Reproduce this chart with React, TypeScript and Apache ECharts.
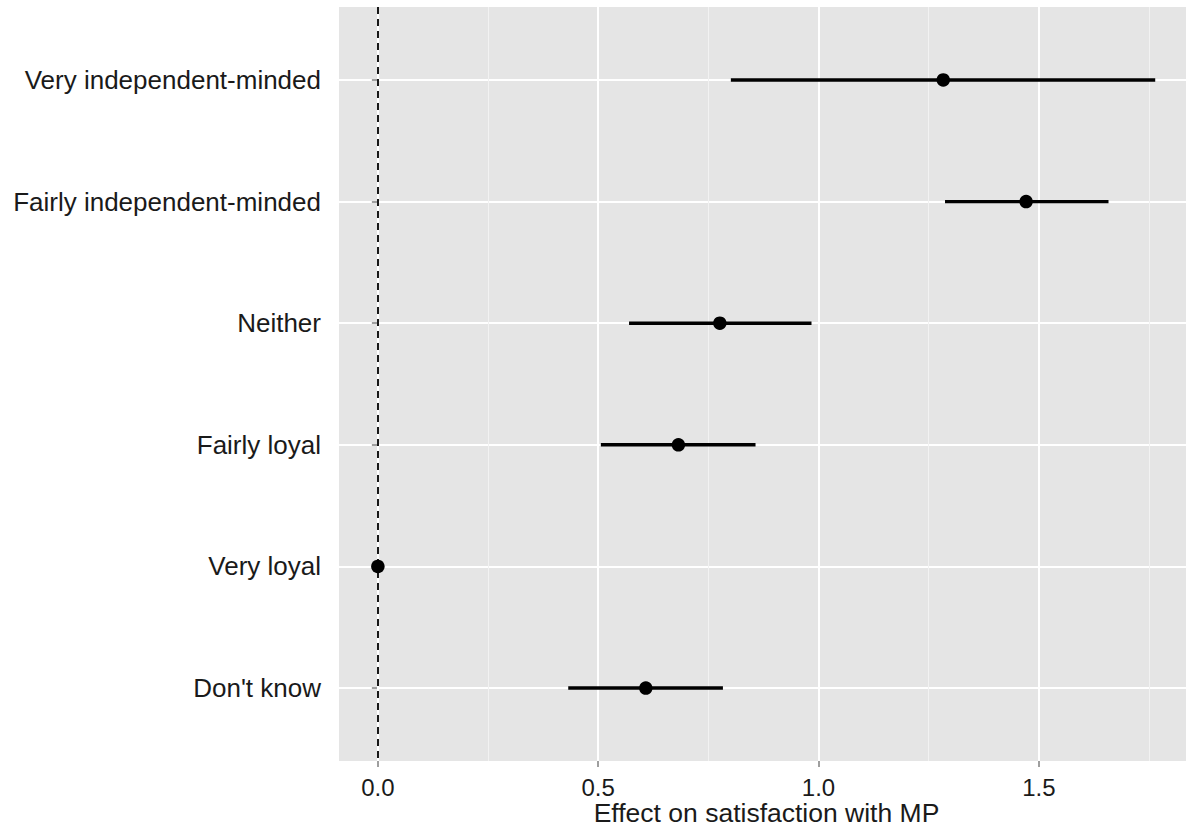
import React, { useEffect, useRef } from "react";
import * as echarts from "echarts";

const categories = [
  "Very independent-minded",
  "Fairly independent-minded",
  "Neither",
  "Fairly loyal",
  "Very loyal",
  "Don't know",
];
const estimates = [1.283, 1.471, 0.776, 0.682, 0.0, 0.608];
const lowerCI = [0.801, 1.287, 0.57, 0.506, 0.0, 0.432];
const upperCI = [1.764, 1.658, 0.984, 0.857, 0.0, 0.783];
const xMajorTicks = [0, 0.5, 1.0, 1.5];
const xMinorTicks = [0.25, 0.75, 1.25, 1.75];
const xTickLabels = ["0.0", "0.5", "1.0", "1.5"];
const xTitle = "Effect on satisfaction with MP";
const referenceValue = 0;

const X_MIN = -0.0882;
const X_MAX = 1.852;

export default function App() {
  const ref = useRef<HTMLDivElement>(null);

  useEffect(() => {
    if (!ref.current) return;
    const chart = echarts.init(ref.current, null, { renderer: "svg" });
    const positions = categories.map((_, i) => i + 1);
    const font = "'Liberation Sans', Arial, Helvetica, sans-serif";

    const option: any = {
      animation: false,
      backgroundColor: "#FFFFFF",
      grid: {
        left: 339,
        right: -8,
        top: 7,
        bottom: 66,
        containLabel: false,
        outerBoundsMode: "none",
        show: true,
        backgroundColor: "#E5E5E5",
        borderWidth: 0,
      },
      xAxis: [
        {
          type: "value",
          min: X_MIN,
          max: X_MAX,
          name: xTitle,
          nameLocation: "middle",
          nameGap: 38,
          nameMoveOverlap: false,
          nameTextStyle: { fontFamily: font, fontSize: 26.5, color: "#1A1A1A" },
          axisLine: { show: false },
          axisTick: {
            show: true,
            length: 6,
            customValues: xMajorTicks,
            lineStyle: { color: "#7F7F7F", width: 1.5 },
          },
          axisLabel: {
            customValues: xMajorTicks,
            formatter: (v: number) => {
              const idx = xMajorTicks.findIndex((t) => Math.abs(t - v) < 1e-6);
              return idx >= 0 ? xTickLabels[idx] : "";
            },
            fontFamily: font,
            fontSize: 24,
            color: "#1A1A1A",
            margin: 14,
          },
          splitLine: { show: true, lineStyle: { color: "#FFFFFF", width: 2 } },
          z: 1,
        },
        {
          type: "value",
          min: X_MIN,
          max: X_MAX,
          position: "bottom",
          axisLine: { show: false },
          axisTick: { show: false, customValues: xMinorTicks },
          axisLabel: { show: false, customValues: xMinorTicks },
          splitLine: { show: true, lineStyle: { color: "#F2F2F2", width: 1 } },
          z: 0,
        },
      ],
      yAxis: {
        type: "value",
        min: 0.4,
        max: 6.6,
        inverse: true,
        axisLine: { show: false },
        axisTick: {
          show: true,
          length: 6,
          customValues: positions,
          lineStyle: { color: "#7F7F7F", width: 1.5 },
        },
        axisLabel: {
          customValues: positions,
          formatter: (v: number) => categories[Math.round(v) - 1] ?? "",
          fontFamily: font,
          fontSize: 26,
          color: "#1A1A1A",
          margin: 18,
        },
        splitLine: { show: true, lineStyle: { color: "#FFFFFF", width: 2 } },
      },
      series: [
        {
          type: "custom",
          xAxisIndex: 0,
          renderItem: (params: any, api: any) => {
            const lo = api.coord([api.value(0), api.value(2)]);
            const hi = api.coord([api.value(1), api.value(2)]);
            return {
              type: "line",
              shape: { x1: lo[0], y1: lo[1], x2: hi[0], y2: hi[1] },
              style: { stroke: "#000000", lineWidth: 3.4 },
            };
          },
          data: categories.map((_, i) => [lowerCI[i], upperCI[i], positions[i]]),
          encode: { x: [0, 1], y: 2 },
          z: 3,
          markLine: {
            silent: true,
            symbol: "none",
            label: { show: false },
            lineStyle: { color: "#000000", type: [7, 5], width: 1.8 },
            data: [{ xAxis: referenceValue }],
            z: 2,
          },
        },
        {
          type: "scatter",
          xAxisIndex: 0,
          symbol: "circle",
          symbolSize: 13.5,
          itemStyle: { color: "#000000", opacity: 1 },
          data: categories.map((_, i) => [estimates[i], positions[i]]),
          z: 4,
        },
      ],
    };

    chart.setOption(option);
    return () => chart.dispose();
  }, []);

  return (
    <div
      ref={ref}
      style={{ position: "absolute", left: 0, top: 0, width: 1186, height: 827 }}
    />
  );
}
